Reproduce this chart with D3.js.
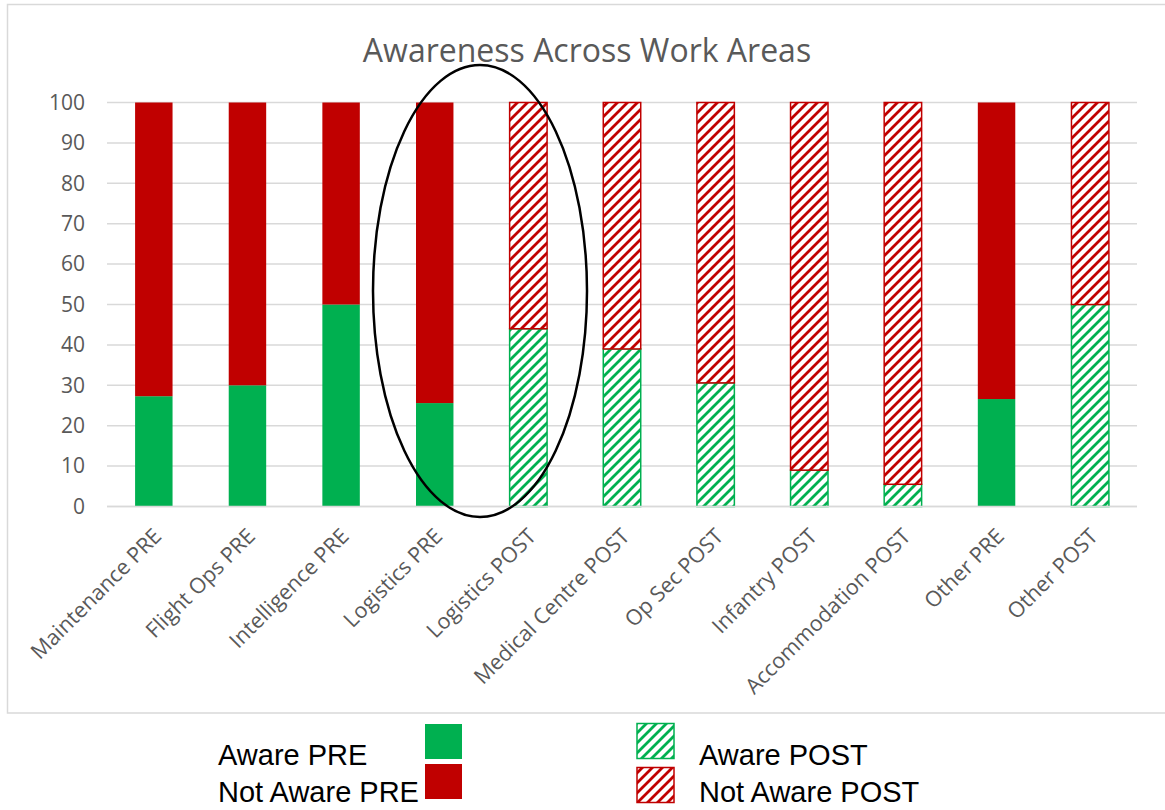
<html>
<head>
<title>Awareness Across Work Areas</title>
<script src="https://cdnjs.cloudflare.com/ajax/libs/d3/7.8.5/d3.min.js"></script>
<style>
body { margin: 0; background: #fff; }
svg { display: block; }
.axis text { font-family: 'Open Sans', sans-serif; fill: #595959; }
.legend text { font-family: 'Liberation Sans', Arial, sans-serif; fill: #000; font-size: 29px; }
</style>
</head>
<body>
<svg width="1165" height="810"></svg>
<script>

// chart data
var categories = ["Maintenance PRE", "Flight Ops PRE", "Intelligence PRE", "Logistics PRE",
  "Logistics POST", "Medical Centre POST", "Op Sec POST", "Infantry POST",
  "Accommodation POST", "Other PRE", "Other POST"];
var phase = ["PRE", "PRE", "PRE", "PRE", "POST", "POST", "POST", "POST", "POST", "PRE", "POST"];
var aware = [27.3, 30, 50, 25.6, 44, 39, 30.6, 9, 5.5, 26.6, 50];
var notAware = [72.7, 70, 50, 74.4, 56, 61, 69.4, 91, 94.5, 73.4, 50];
var yTicks = [0, 10, 20, 30, 40, 50, 60, 70, 80, 90, 100];

var green = "#00b050", red = "#c00000";

var svg = d3.select("svg");

// chart frame
svg.append("rect").attr("x", 7.5).attr("y", 4.5).attr("width", 1170).attr("height", 708.5)
  .attr("fill", "none").attr("stroke", "#d9d9d9").attr("stroke-width", 1.5);

// hatch patterns (wide upward diagonal)
var defs = svg.append("defs");
[["hatchGreen", green], ["hatchRed", red]].forEach(function (p) {
  var pat = defs.append("pattern").attr("id", p[0]).attr("patternUnits", "userSpaceOnUse")
    .attr("width", 10).attr("height", 10);
  pat.append("rect").attr("width", 10).attr("height", 10).attr("fill", "#fff");
  pat.append("path").attr("d", "M-2,2 L2,-2 M0,10 L10,0 M8,12 L12,8")
    .attr("stroke", p[1]).attr("stroke-width", 2.8);
});

var x = d3.scaleBand().domain(categories).range([107, 1137]).paddingInner(0.6).paddingOuter(0.3);
var y = d3.scaleLinear().domain([0, 100]).range([506.5, 102.5]);

// gridlines
svg.append("g").selectAll("line").data(yTicks).enter().append("line")
  .attr("x1", 107).attr("x2", 1137)
  .attr("y1", function (d) { return y(d); }).attr("y2", function (d) { return y(d); })
  .attr("stroke", "#d9d9d9").attr("stroke-width", 1.5);

// y axis labels
var yAxis = svg.append("g").attr("class", "axis").attr("transform", "translate(107,0)")
  .call(d3.axisLeft(y).tickValues(yTicks).tickSize(0).tickPadding(22));
yAxis.select(".domain").remove();
yAxis.selectAll("text").attr("font-size", 21);

// stacked bars
var rows = categories.map(function (c, i) {
  return { cat: c, phase: phase[i], aware: aware[i], notAware: notAware[i] };
});

var bars = svg.append("g");
rows.forEach(function (d) {
  var isPre = d.phase == "PRE";
  var segs = [
    { y0: 0, y1: d.aware, color: green, fill: isPre ? green : "url(#hatchGreen)" },
    { y0: d.aware, y1: d.aware + d.notAware, color: red, fill: isPre ? red : "url(#hatchRed)" }
  ];
  segs.forEach(function (s) {
    bars.append("rect")
      .attr("x", x(d.cat)).attr("width", x.bandwidth())
      .attr("y", y(s.y1)).attr("height", y(s.y0) - y(s.y1))
      .attr("fill", s.fill)
      .attr("stroke", isPre ? "none" : s.color).attr("stroke-width", 1.5);
  });
});

// x axis line
svg.append("line").attr("x1", 107).attr("x2", 1137).attr("y1", y(0)).attr("y2", y(0))
  .attr("stroke", "#d9d9d9").attr("stroke-width", 1.5);

// category labels
svg.append("g").attr("class", "axis").selectAll("text").data(categories).enter().append("text")
  .attr("transform", function (d) {
    return "translate(" + (x(d) + x.bandwidth() / 2 + 9) + "," + (y(0) + 31) + ") rotate(-45)";
  })
  .attr("text-anchor", "end").attr("font-size", 21.5)
  .text(function (d) { return d; });

// title
svg.append("text").attr("x", 587).attr("y", 62).attr("text-anchor", "middle")
  .attr("font-family", "'Open Sans', sans-serif").attr("font-size", 32).attr("fill", "#595959")
  .text("Awareness Across Work Areas");

// highlight ellipse round the Logistics pair
svg.append("ellipse").attr("cx", 480).attr("cy", 291).attr("rx", 107).attr("ry", 226)
  .attr("fill", "none").attr("stroke", "#000").attr("stroke-width", 2.5);

// legend
var legend = svg.append("g").attr("class", "legend");
var legendItems = [
  { label: "Aware PRE", fill: green, stroke: "none", tx: 218, ty: 765, bx: 425, by: 724 },
  { label: "Not Aware PRE", fill: red, stroke: "none", tx: 218, ty: 802, bx: 425, by: 764 },
  { label: "Aware POST", fill: "url(#hatchGreen)", stroke: green, tx: 699, ty: 765, bx: 637, by: 723.5 },
  { label: "Not Aware POST", fill: "url(#hatchRed)", stroke: red, tx: 699, ty: 802, bx: 637, by: 767.5 }
];
legendItems.forEach(function (d) {
  legend.append("rect").attr("x", d.bx).attr("y", d.by).attr("width", 37).attr("height", 35)
    .attr("fill", d.fill).attr("stroke", d.stroke).attr("stroke-width", 1.5);
  legend.append("text").attr("x", d.tx).attr("y", d.ty).text(d.label);
});

</script>
</body>
</html>
